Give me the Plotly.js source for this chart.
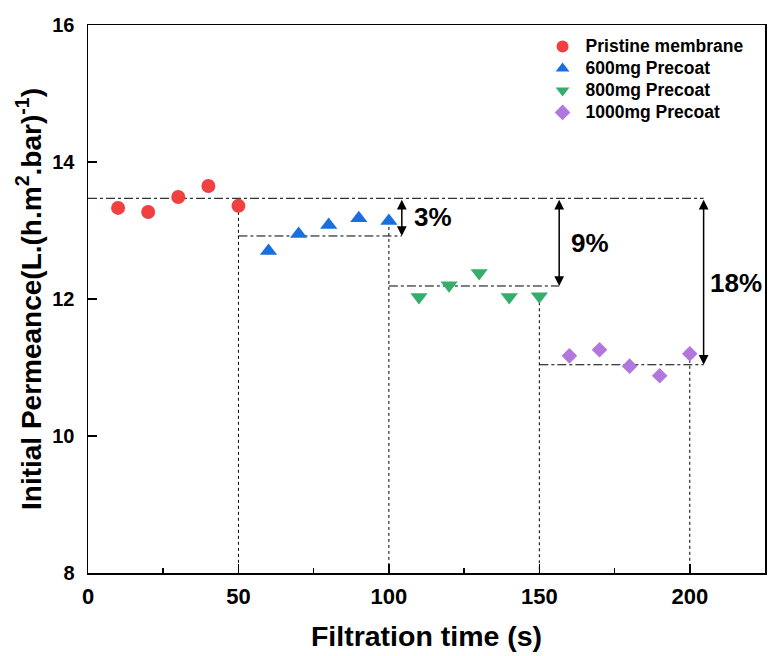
<!DOCTYPE html>
<html>
<head>
<meta charset="utf-8">
<script src="https://cdn.plot.ly/plotly-3.0.1.min.js"></script>
<style>html,body{margin:0;padding:0;background:#fff;}#chart{width:768px;height:656px;}</style>
</head>
<body>
<div id="chart"></div>
<script>
// ---- data ----
var seriesNames = ["Pristine membrane", "600mg Precoat", "800mg Precoat", "1000mg Precoat"];
var xPristine = [10, 20, 30, 40, 50];
var yPristine = [13.33, 13.27, 13.49, 13.65, 13.36];
var x600 = [60, 70, 80, 90, 100];
var y600 = [12.70, 12.95, 13.08, 13.18, 13.14];
var x800 = [110, 120, 130, 140, 150];
var y800 = [12.03, 12.20, 12.38, 12.03, 12.04];
var x1000 = [160, 170, 180, 190, 200];
var y1000 = [11.17, 11.26, 11.02, 10.88, 11.20];

// reference levels
var baseLevel = 13.47;
var baseLineEnd = 204.6;
var levelValues = [12.92, 12.19, 11.04];
var levelStarts = [50, 100, 150];
var arrowX = [104.3, 156.6, 204.6];
var dropLabels = ["3%", "9%", "18%"];
var dropLabelX = [114.5, 167, 215.5];
var dropLabelY = [13.2, 12.82, 12.23];
// vertical guide lines (from data point down to axis)
var vGuideX = [50, 100, 150, 200];
var vGuideTop = [13.36, 13.14, 12.04, 11.20];

var xTicks = [0, 50, 100, 150, 200];
var yTicks = [8, 10, 12, 14, 16];

var colors = ["#F14040", "#1A6FDF", "#37AD6B", "#B177DE"];
var symbols = ["circle", "triangle-up", "triangle-down", "diamond"];
var sizes = [14, 15, 15, 12];

var xs = [xPristine, x600, x800, x1000];
var ys = [yPristine, y600, y800, y1000];

var FONT = "Liberation Sans, Arial, sans-serif";

var traces = [];
for (var i = 0; i < 4; i++) {
  traces.push({
    x: xs[i], y: ys[i], name: '<span style="font-size:17.5px">' + seriesNames[i] + '</span>',
    type: "scatter", mode: "markers",
    marker: {color: colors[i], symbol: symbols[i], size: sizes[i], line: {width: 0}},
    cliponaxis: false
  });
}

var shapes = [];
shapes.push({type: "line", xref: "x", yref: "y", x0: 0, x1: baseLineEnd, y0: baseLevel, y1: baseLevel,
  line: {color: "#000", width: 1, dash: "dashdot"}, layer: "below"});
for (var k = 0; k < levelValues.length; k++) {
  shapes.push({type: "line", xref: "x", yref: "y", x0: levelStarts[k], x1: arrowX[k], y0: levelValues[k], y1: levelValues[k],
    line: {color: "#000", width: 1, dash: "dashdot"}, layer: "below"});
}
for (var v = 0; v < vGuideX.length; v++) {
  shapes.push({type: "line", xref: "x", yref: "y", x0: vGuideX[v], x1: vGuideX[v], y0: vGuideTop[v], y1: 8,
    line: {color: "#000", width: 1, dash: "3px,3px"}, layer: "below"});
}

var annotations = [];
for (var a = 0; a < levelValues.length; a++) {
  annotations.push({
    x: arrowX[a], y: levelValues[a], ax: arrowX[a], ay: baseLevel, xref: "x", yref: "y", axref: "x", ayref: "y",
    text: "", showarrow: true, arrowhead: 2, startarrowhead: 2, arrowside: "end+start",
    arrowsize: 1.3, startarrowsize: 1.3, arrowwidth: 1.5, arrowcolor: "#000", standoff: 0, startstandoff: 0
  });
  annotations.push({
    x: dropLabelX[a], y: dropLabelY[a], xref: "x", yref: "y", text: "<b>" + dropLabels[a] + "</b>",
    showarrow: false, font: {family: FONT, size: 26, color: "#000"}
  });
}

var layout = {
  width: 768, height: 656,
  margin: {l: 88, r: 3, t: 25, b: 83},
  paper_bgcolor: "#fff", plot_bgcolor: "#fff",
  font: {family: FONT, color: "#000"},
  showlegend: true,
  legend: {x: 0.667, y: 0.99, xanchor: "left", yanchor: "top", bgcolor: "rgba(0,0,0,0)",
    font: {size: 14.6, color: "#000", family: FONT, weight: "bold"},
    tracegroupgap: 0, itemsizing: "constant", itemwidth: 36},
  xaxis: {
    range: [0, 225], tickvals: xTicks, ticktext: xTicks.map(String),
    ticks: "inside", ticklen: 9, tickwidth: 1.5, tickcolor: "#000",
    showline: true, linecolor: "#000", linewidth: 1.5, mirror: true,
    showgrid: false, zeroline: false, ticklabelstandoff: 3,
    tickfont: {size: 22, family: FONT, weight: "bold"},
    minor: {tickvals: [25, 75, 125, 175], ticks: "inside", ticklen: 5, tickwidth: 1.5, tickcolor: "#000", showgrid: false},
    title: {text: "<b>Filtration time (s)</b>", font: {size: 28.5, family: FONT}, standoff: 18}
  },
  yaxis: {
    range: [8, 16], tickvals: yTicks, ticktext: yTicks.map(String),
    ticks: "inside", ticklen: 9, tickwidth: 1.5, tickcolor: "#000",
    showline: true, linecolor: "#000", linewidth: 1.5, mirror: true,
    showgrid: false, zeroline: false, ticklabelstandoff: 8,
    tickfont: {size: 20, family: FONT, weight: "bold"},
    title: {text: "<b>Initial Permeance(L.(h.m<sup>2</sup>.bar)<sup>-1</sup>)</b>", font: {size: 28, family: FONT}, standoff: 2}
  },
  shapes: shapes,
  annotations: annotations
};

Plotly.newPlot("chart", traces, layout, {displayModeBar: false, staticPlot: true});
</script>
</body>
</html>
